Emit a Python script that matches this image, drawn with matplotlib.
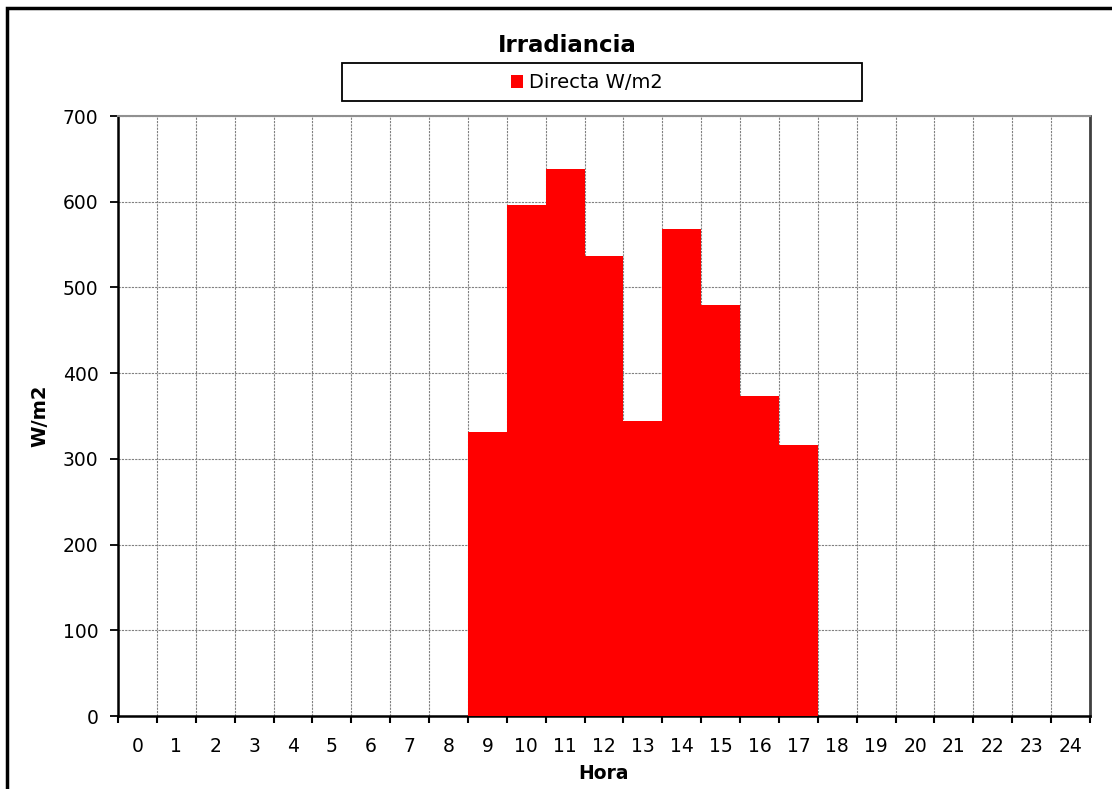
import matplotlib
matplotlib.use("Agg")
import matplotlib.pyplot as plt
from matplotlib.patches import Rectangle, Patch
import numpy as np

# hourly direct irradiance, W/m2
hours = list(range(0, 25))
sun_hours = [9, 10, 11, 12, 13, 14, 15, 16, 17]
directa = [331, 596, 638, 537, 344, 568, 480, 373, 316]

plt.rcParams["font.family"] = "DejaVu Sans"
plt.rcParams["font.size"] = 13.5

fig = plt.figure(figsize=(11.12, 7.89), dpi=100)
ax = fig.add_axes([118 / 1112, 1 - 716 / 789, 972 / 1112, 600 / 789])

ax.bar(sun_hours, directa, width=1.0, color="#ff0000", linewidth=0, zorder=3)

ax.set_xlim(-0.5, 24.5)
ax.set_ylim(0, 700)
ax.set_yticks(np.arange(0, 701, 100))

# major ticks on the category edges, labels on the centres
ax.set_xticks(np.arange(-0.5, 25, 1.0))
ax.set_xticklabels([])
ax.set_xticks(hours, minor=True)
ax.set_xticklabels([str(h) for h in hours], minor=True)
ax.tick_params(axis="x", which="major", direction="out", length=5, width=1.5)
ax.tick_params(axis="x", which="minor", length=0, pad=15)
ax.tick_params(axis="y", direction="out", length=6, width=1.3, pad=8)

ax.grid(True, which="major", color="#808080", linestyle=(0, (2, 1)), linewidth=0.8)
ax.set_axisbelow(True)

for side in ("left", "bottom"):
    ax.spines[side].set_linewidth(1.8)
    ax.spines[side].set_color("black")
ax.spines["top"].set_color("#909090")
ax.spines["top"].set_linewidth(1.5)
ax.spines["right"].set_color("#404040")
ax.spines["right"].set_linewidth(2.0)

ax.set_xlabel("Hora", fontweight="bold", labelpad=6)
ax.set_ylabel("W/m2", fontweight="bold", fontsize=14)
ax.yaxis.set_label_coords(-78 / 972, 0.5)
ax.yaxis.label.set_va("center")

fig.text(567 / 1112, 1 - 45 / 789, "Irradiancia", ha="center", va="center",
         fontsize=16.5, fontweight="bold")

# legend box above the plot
fig.patches.append(Rectangle((342 / 1112, 1 - 101 / 789), 520 / 1112, 38 / 789,
                             transform=fig.transFigure, facecolor="white",
                             edgecolor="black", linewidth=1.3, zorder=1))
leg = fig.legend(handles=[Patch(facecolor="#ff0000", linewidth=0)],
                 labels=["Directa W/m2"], loc="center",
                 bbox_to_anchor=(587 / 1112, 1 - 83 / 789), frameon=False,
                 fontsize=14, handlelength=0.62, handleheight=0.62,
                 handletextpad=0.3, borderpad=0)
leg.set_zorder(5)

# chart frame
fig.patches.append(Rectangle((7 / 1112, -0.1), 1.2, 1.1 - 8 / 789,
                             transform=fig.transFigure, facecolor="none",
                             edgecolor="black", linewidth=2.5))

fig.savefig("out.png", dpi=100)
